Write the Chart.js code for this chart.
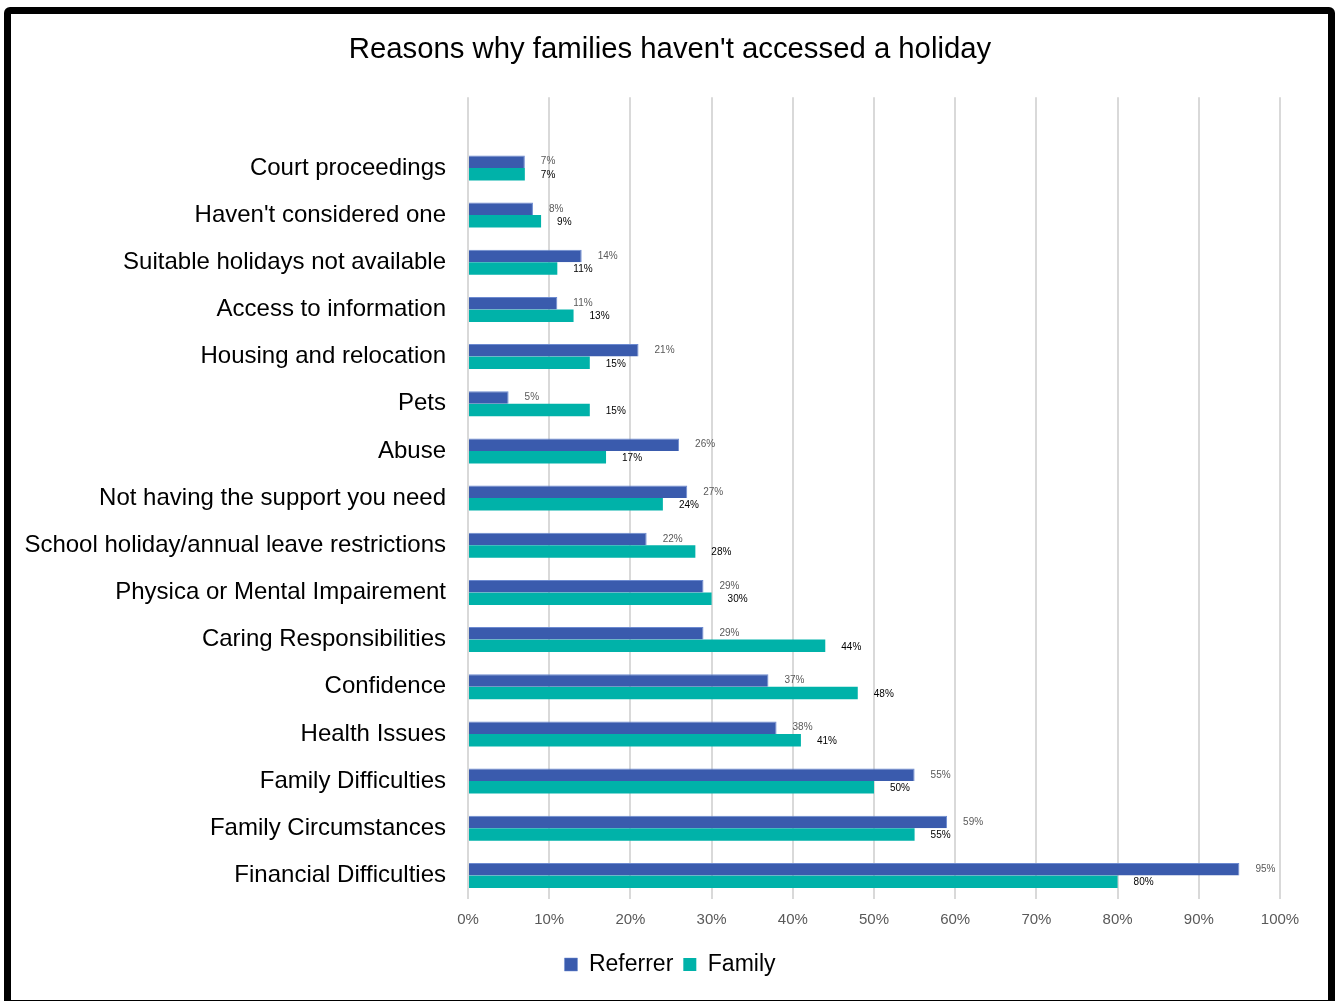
<!DOCTYPE html>
<html>
<head>
<meta charset="utf-8">
<script src="https://cdn.jsdelivr.net/npm/chart.js@4.4.1/dist/chart.umd.min.js"></script>
<style>
  body { margin: 0; background: #fff; overflow: hidden; }
  #wrap { position: absolute; left: 0; top: 0; width: 1340px; height: 1001px; }
  #frame {
    position: absolute; left: 4px; top: 7px; width: 1317px; height: 986px;
    border: 7px solid #000; border-radius: 6px 6px 0 0; pointer-events: none;
  }
</style>
</head>
<body>
<div id="wrap">
  <canvas id="holidayChart" width="1340" height="1001"></canvas>
  <div id="frame"></div>
</div>
<script>
  // blank first row keeps the empty band above "Court proceedings"
  const categories = [
    '',
    'Court proceedings',
    "Haven't considered one",
    'Suitable holidays not available',
    'Access to information',
    'Housing and relocation',
    'Pets',
    'Abuse',
    'Not having the support you need',
    'School holiday/annual leave restrictions',
    'Physica or Mental Impairement',
    'Caring Responsibilities',
    'Confidence',
    'Health Issues',
    'Family Difficulties',
    'Family Circumstances',
    'Financial Difficulties'
  ];
  const referrer = [null, 7, 8, 14, 11, 21, 5, 26, 27, 22, 29, 29, 37, 38, 55, 59, 95];
  const family   = [null, 7, 9, 11, 13, 15, 15, 17, 24, 28, 30, 44, 48, 41, 50, 55, 80];
  const xTicks = [0, 10, 20, 30, 40, 50, 60, 70, 80, 90, 100];

  const FONT = "'Liberation Sans', Arial, sans-serif";

  // value labels to the right of each bar
  const barLabels = {
    id: 'barLabels',
    afterDatasetsDraw(chart) {
      const ctx = chart.ctx;
      ctx.save();
      ctx.textBaseline = 'middle';
      ctx.textAlign = 'left';
      ctx.font = '10px ' + FONT;
      chart.data.datasets.forEach((ds, i) => {
        const meta = chart.getDatasetMeta(i);
        meta.data.forEach((bar, j) => {
          const v = ds.data[j];
          if (v === null) return;
          ctx.fillStyle = i === 0 ? '#595959' : '#000000';
          ctx.fillText(v + '%', bar.x + 16, bar.y + (i === 0 ? 0 : 1));
        });
      });
      ctx.restore();
    }
  };

  const ctx = document.getElementById('holidayChart').getContext('2d');
  const holidayChart = new Chart(ctx, {
    type: 'bar',
    data: {
      labels: categories,
      datasets: [
        {
          label: 'Referrer',
          data: referrer,
          backgroundColor: '#3A5BAD',
          borderColor: '#6C8AD0',
          borderWidth: { top: 1, right: 1, bottom: 0, left: 0 },
          borderSkipped: 'left'
        },
        {
          label: 'Family',
          data: family,
          backgroundColor: '#00B2A9',
          borderWidth: 0
        }
      ]
    },
    options: {
      indexAxis: 'y',
      responsive: false,
      animation: false,
      categoryPercentage: 0.53,
      barPercentage: 1,
      layout: { padding: { left: 0, right: 0, top: 0, bottom: 15 } },
      scales: {
        x: {
          min: 0,
          max: 100,
          afterBuildTicks: (axis) => { axis.ticks = xTicks.map(v => ({ value: v })); },
          grid: { color: '#D9D9D9', lineWidth: 2, drawTicks: false },
          border: { display: false },
          ticks: {
            padding: 12,
            color: '#595959',
            font: { family: FONT, size: 15 },
            callback: (v) => v + '%'
          },
          afterFit: (axis) => { axis.height = 44; }
        },
        y: {
          grid: { display: false, drawTicks: false },
          border: { display: false },
          ticks: {
            padding: 22,
            color: '#000000',
            autoSkip: false,
            font: { family: FONT, size: 24 }
          },
          afterFit: (axis) => { axis.width = 468; }
        },
        // empty right-hand strip, keeps title and legend centred on the page
        yRight: {
          type: 'category',
          position: 'right',
          grid: { display: false, drawTicks: false },
          border: { display: false },
          ticks: { display: false },
          afterFit: (axis) => { axis.width = 60; }
        }
      },
      plugins: {
        title: {
          display: true,
          text: "Reasons why families haven't accessed a holiday",
          color: '#000000',
          font: { family: FONT, size: 29.3, weight: 'normal' },
          padding: { top: 32, bottom: 30 }
        },
        legend: {
          position: 'bottom',
          labels: {
            color: '#000000',
            font: { family: FONT, size: 23 },
            boxWidth: 13,
            boxHeight: 13,
            padding: 10
          }
        },
        tooltip: { enabled: false }
      }
    },
    plugins: [barLabels]
  });
</script>
</body>
</html>
